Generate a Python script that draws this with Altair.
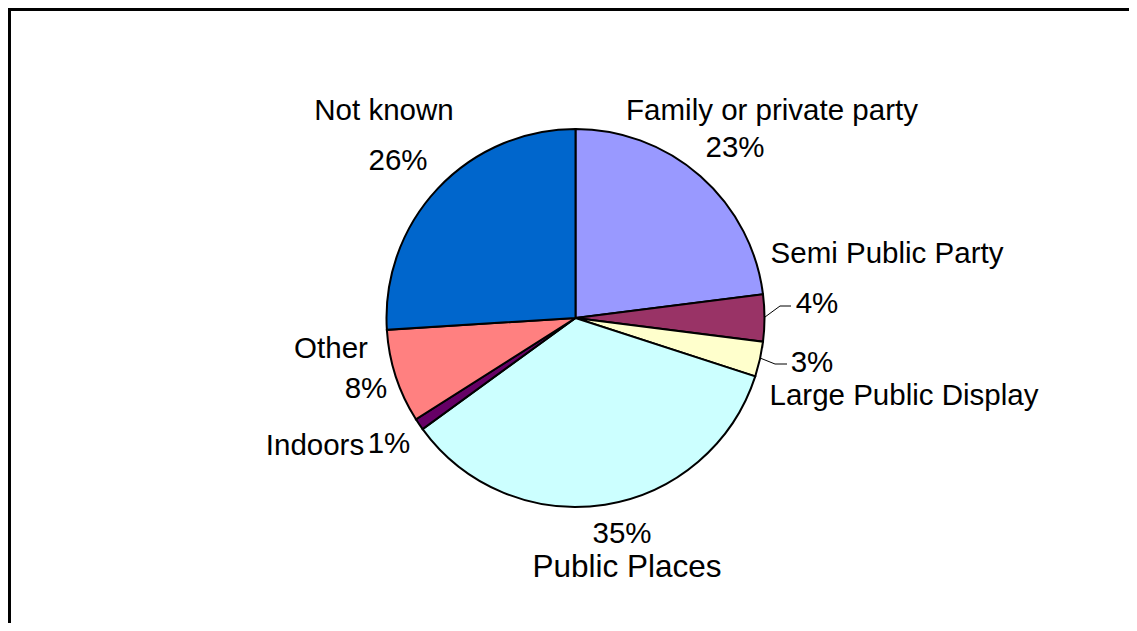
import altair as alt
import pandas as pd

# ---- data ----
categories = ["Family or private party", "Semi Public Party", "Large Public Display",
              "Public Places", "Indoors", "Other", "Not known"]
values = [23, 4, 3, 35, 1, 8, 26]
colors = ["#9999FF", "#993366", "#FFFFCC", "#CCFFFF", "#660066", "#FF8080", "#0066CC"]

# ---- layout (pixel positions inside the chart area) ----
W, H = 1121, 615
CX, CY, R = 567.5, 310, 189
FONT = "Liberation Sans"
name_pos = {
    "Family or private party": (764, 112),
    "Semi Public Party": (879, 255),
    "Large Public Display": (896, 397),
    "Public Places": (619, 569),
    "Indoors": (307, 447),
    "Other": (323, 350),
    "Not known": (376, 112),
}
pct_pos = {
    "Family or private party": (727, 149),
    "Semi Public Party": (809, 305),
    "Large Public Display": (804, 364),
    "Public Places": (614, 535),
    "Indoors": (381, 445),
    "Other": (358, 390),
    "Not known": (390, 162),
}
name_size = {"Public Places": 31.5}
leaders = [
    (757, 309, 772, 298), (772, 298, 783, 298),
    (752, 350, 767, 356), (767, 356, 779, 356),
]

df = pd.DataFrame({"category": categories, "value": values, "order": range(len(categories))})

pie = alt.Chart(df).mark_arc(outerRadius=R, stroke="black", strokeWidth=2).encode(
    theta=alt.Theta("value:Q", stack=True),
    order=alt.Order("order:Q"),
    color=alt.Color("category:N", scale=alt.Scale(domain=categories, range=colors), legend=None),
    x=alt.value(CX),
    y=alt.value(CY),
)

lab = pd.DataFrame({
    "name": categories,
    "pct": [f"{v}%" for v in values],
    "nx": [name_pos[c][0] for c in categories],
    "ny": [name_pos[c][1] for c in categories],
    "px": [pct_pos[c][0] for c in categories],
    "py": [pct_pos[c][1] for c in categories],
    "ns": [name_size.get(c, 29.5) for c in categories],
})

names = alt.Chart(lab).mark_text(font=FONT, align="center", baseline="alphabetic", color="black").encode(
    x=alt.X("nx:Q", scale=None), y=alt.Y("ny:Q", scale=None), text="name:N",
    size=alt.Size("ns:Q", scale=None, legend=None),
)
pcts = alt.Chart(lab).mark_text(font=FONT, fontSize=29.5, align="center", baseline="alphabetic", color="black").encode(
    x=alt.X("px:Q", scale=None), y=alt.Y("py:Q", scale=None), text="pct:N",
)

ld = pd.DataFrame(leaders, columns=["x1", "y1", "x2", "y2"])
lead = alt.Chart(ld).mark_rule(color="black", strokeWidth=1).encode(
    x=alt.X("x1:Q", scale=None), y=alt.Y("y1:Q", scale=None),
    x2="x2:Q", y2="y2:Q",
)

border_left = alt.Chart(df).mark_rule(color="black", strokeWidth=3).encode(
    x=alt.value(1), y=alt.value(0), y2=alt.value(H))
border_top = alt.Chart(df).mark_rule(color="black", strokeWidth=3).encode(
    y=alt.value(1), x=alt.value(0), x2=alt.value(W))

chart = alt.layer(pie, lead, names, pcts, border_left, border_top).properties(
    width=W, height=H, padding=0, autosize=alt.AutoSizeParams(type="none"),
).configure_view(stroke=None).configure(background="white")

chart.save("out.html", embed_options={"renderer": "svg", "actions": False})
